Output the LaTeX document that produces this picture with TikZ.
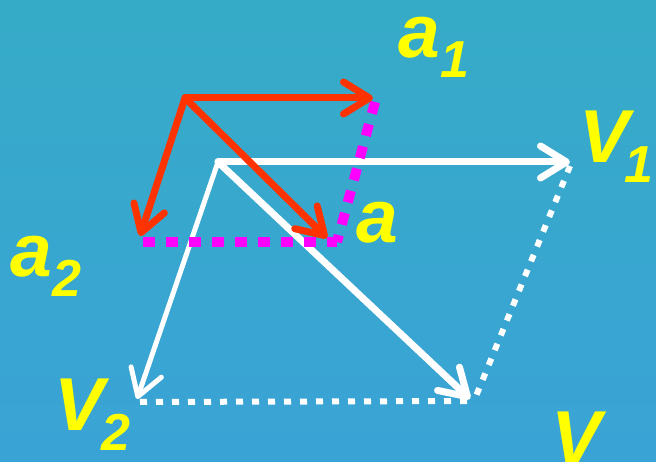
\documentclass[tikz,border=0pt]{standalone}
\usepackage{fontspec}
\setmainfont{Liberation Sans}
\usetikzlibrary{arrows.meta}
\definecolor{bgtop}{HTML}{36ABC7}
\definecolor{bgbot}{HTML}{3AA3D6}
\definecolor{vecred}{HTML}{FF3300}
\definecolor{projpink}{HTML}{FF00FF}
\definecolor{lblyellow}{HTML}{FFFF00}
\newcommand{\lblsub}[2][1pt]{\kern#1\raisebox{-20pt}{\fontsize{52}{52}\selectfont #2}}

\begin{document}
\begin{tikzpicture}[
    x=1pt, y=-1pt,
    head/.style={-{Straight Barb[length=26pt, width=32pt, line cap=round, line join=round]}},
    vel/.style={head, line width=7pt, color=white, line cap=round},
    velthin/.style={head, line width=5pt, color=white, line cap=round},
    acc/.style={head, line width=7pt, color=vecred, line cap=round},
    wdots/.style={line width=6pt, color=white, dash pattern=on 7pt off 9pt},
    pdots/.style={line width=10pt, color=projpink, dash pattern=on 12pt off 11pt},
    lbl/.style={anchor=base west, inner sep=0pt, text=lblyellow,
                font=\fontsize{75}{75}\selectfont\bfseries\itshape},
  ]
    % background
    \shade[top color=bgtop, bottom color=bgbot] (0,0) rectangle (656,462);
    \useasboundingbox (0,0) rectangle (656,462);

    % velocity vectors
    \coordinate (o)  at (218,162);
    \coordinate (v1) at (570,162);
    \coordinate (v2) at (137,399);
    \coordinate (v)  at (470,399);
    \coordinate (vc) at (474,401);

    % acceleration vectors
    \coordinate (r)  at (185,98);
    \coordinate (a1) at (373,98);
    \coordinate (a2) at (140,236);
    \coordinate (a)  at (327,238);
    \coordinate (ac) at (337,242);
    \coordinate (a2f) at (143,242);
    \coordinate (a1f) at (375,102);
    \coordinate (v2f) at (140,402);
    \coordinate (v1f) at (570,166);

    \draw[wdots] (v2f) -- (vc);
    \draw[wdots] (v1f) -- (vc);
    \draw[vel]     (o) -- (v1);
    \draw[velthin] (o) -- (v2);
    \draw[vel]     (o) -- (v);

    \draw[pdots] (a2f) -- (ac);
    \draw[pdots] (a1f) -- (ac);
    \draw[acc] (r) -- (a1);
    \draw[acc] (r) -- (a2);
    \draw[acc] (r) -- (a);

    % labels
    \node[lbl] (la1) at (398,58)  {a\lblsub{1}};
    \node[lbl] (la)  at (356,243) {a};
    \node[lbl] (la2) at (10,277)  {a\lblsub{2}};
    \node[lbl] (lv1) at (579,163) {V\lblsub[-5pt]{1}};
    \node[lbl] (lv2) at (54,430)  {V\lblsub[-3pt]{2}};
    \node[lbl] (lv)  at (551,463) {V};
\end{tikzpicture}
\end{document}
